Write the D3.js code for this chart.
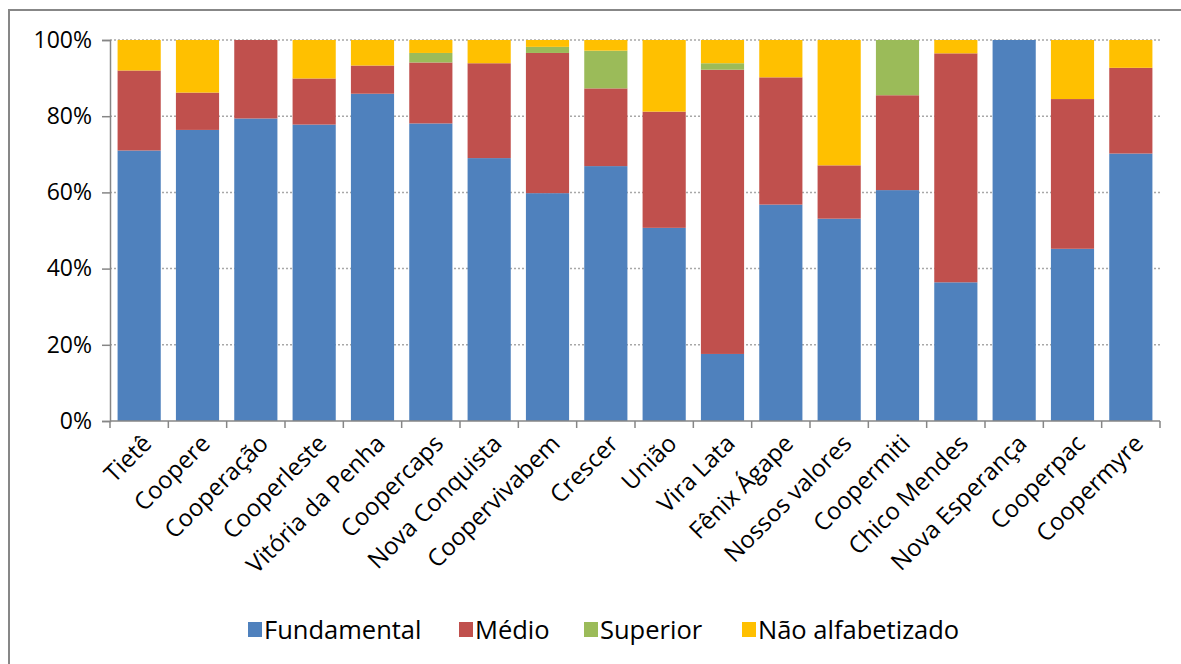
<!DOCTYPE html>
<html>
<head>
<meta charset="utf-8">
<script src="https://cdn.jsdelivr.net/npm/d3@7"></script>
<style>
  body { margin: 0; background: #fff; }
  text { font-family: "Open Sans", sans-serif; fill: #000; }
</style>
</head>
<body>
<div id="chart"></div>
<script>
// chart size, same as the window
const width = 1181;
const height = 664;
const margin = {left: 110, right: 21, top: 40, bottom: 243};

// categories along the x axis
const cooperativas = ["Tietê", "Coopere", "Cooperação", "Cooperleste", "Vitória da Penha",
  "Coopercaps", "Nova Conquista", "Coopervivabem", "Crescer", "União", "Vira Lata",
  "Fênix Ágape", "Nossos valores", "Coopermiti", "Chico Mendes", "Nova Esperança",
  "Cooperpac", "Coopermyre"];

// series values, percent of each bar
const fundamental = [71.0, 76.4, 79.4, 77.8, 85.9, 78.1, 69.0, 59.8, 66.9, 50.7, 17.6, 56.8, 53.1, 60.6, 36.4, 100, 45.2, 70.2];
const medio       = [21.0, 9.8, 20.6, 12.1, 7.4, 16.0, 24.9, 36.8, 20.4, 30.5, 74.6, 33.4, 14.0, 24.9, 60.1, 0, 39.3, 22.5];
const superior    = [0, 0, 0, 0, 0, 2.5, 0, 1.6, 9.9, 0, 1.7, 0, 0, 14.5, 0, 0, 0, 0];
const naoAlfab    = [8.0, 13.8, 0, 10.1, 6.7, 3.4, 6.1, 1.8, 2.8, 18.8, 6.1, 9.8, 32.9, 0, 3.5, 0, 15.5, 7.3];

// legend labels and colours
const seriesNames = ["Fundamental", "Médio", "Superior", "Não alfabetizado"];
const seriesColors = ["#4F81BD", "#C0504D", "#9BBB59", "#FFC000"];

// y tick values
const yTicks = [0, 0.2, 0.4, 0.6, 0.8, 1];

// build rows for d3.stack
const rows = cooperativas.map((c, i) => ({
  name: c,
  "Fundamental": fundamental[i],
  "Médio": medio[i],
  "Superior": superior[i],
  "Não alfabetizado": naoAlfab[i]
}));

const stacked = d3.stack()
  .keys(seriesNames)
  .offset(d3.stackOffsetExpand)(rows);

const svg = d3.select("#chart")
  .append("svg")
  .attr("width", width)
  .attr("height", height);

// outer border of the chart area
svg.append("rect")
  .attr("x", 9).attr("y", 10)
  .attr("width", 1190).attr("height", 660)
  .attr("fill", "none")
  .attr("stroke", "#878787")
  .attr("stroke-width", 2);

// scales
const xScale = d3.scaleBand()
  .domain(cooperativas)
  .range([margin.left, width - margin.right])
  .paddingInner(0.26)
  .paddingOuter(0.13);

const yScale = d3.scaleLinear()
  .domain([0, 1])
  .range([height - margin.bottom, margin.top]);

// dotted gridlines
svg.append("g")
  .selectAll("line")
  .data(yTicks.slice(1))
  .enter()
  .append("line")
    .attr("x1", margin.left)
    .attr("x2", width - margin.right)
    .attr("y1", d => yScale(d))
    .attr("y2", d => yScale(d))
    .attr("stroke", "#a8a8a8")
    .attr("stroke-width", 1.5)
    .attr("stroke-dasharray", "2,2");

// bars
svg.append("g")
  .selectAll("g")
  .data(stacked)
  .enter()
  .append("g")
    .attr("fill", (d, i) => seriesColors[i])
  .selectAll("rect")
  .data(d => d)
  .enter()
  .append("rect")
    .attr("x", d => xScale(d.data.name))
    .attr("y", d => yScale(d[1]))
    .attr("height", d => yScale(d[0]) - yScale(d[1]))
    .attr("width", xScale.bandwidth());

// y axis
const yAxis = svg.append("g")
  .attr("transform", `translate(${margin.left},0)`)
  .call(d3.axisLeft(yScale)
    .tickValues(yTicks)
    .tickFormat(d3.format(".0%"))
    .tickSize(8)
    .tickPadding(10));
yAxis.selectAll("line, path").attr("stroke", "#868686").attr("stroke-width", 1.5);
yAxis.selectAll("text").attr("font-size", "23px").attr("font-family", "Open Sans");

// x axis with ticks between categories
const step = xScale.step();
const x0 = margin.left;
const xAxis = svg.append("g");
xAxis.append("line")
  .attr("x1", x0).attr("x2", width - margin.right)
  .attr("y1", yScale(0)).attr("y2", yScale(0))
  .attr("stroke", "#868686").attr("stroke-width", 1.5);
xAxis.selectAll(".tick")
  .data(d3.range(cooperativas.length + 1))
  .enter()
  .append("line")
    .attr("x1", i => x0 + i * step)
    .attr("x2", i => x0 + i * step)
    .attr("y1", yScale(0))
    .attr("y2", yScale(0) + 7)
    .attr("stroke", "#868686").attr("stroke-width", 1.5);

// rotated category labels
xAxis.selectAll(".label")
  .data(cooperativas)
  .enter()
  .append("text")
    .attr("text-anchor", "end")
    .attr("font-size", "24px")
    .attr("transform", d => `translate(${xScale(d) + xScale.bandwidth() / 2 + 8},${yScale(0) + 18}) rotate(-45)`)
    .attr("dy", "0.35em")
    .text(d => d);

// legend
const legendX = [248, 459, 584, 742];
const legend = svg.append("g");
seriesNames.forEach((s, i) => {
  legend.append("rect")
    .attr("x", legendX[i]).attr("y", 622)
    .attr("width", 14).attr("height", 15)
    .attr("fill", seriesColors[i]);
  legend.append("text")
    .attr("x", legendX[i] + 16).attr("y", 630)
    .attr("dy", "0.35em")
    .attr("font-size", "25.5px")
    .text(s);
});
</script>
</body>
</html>
